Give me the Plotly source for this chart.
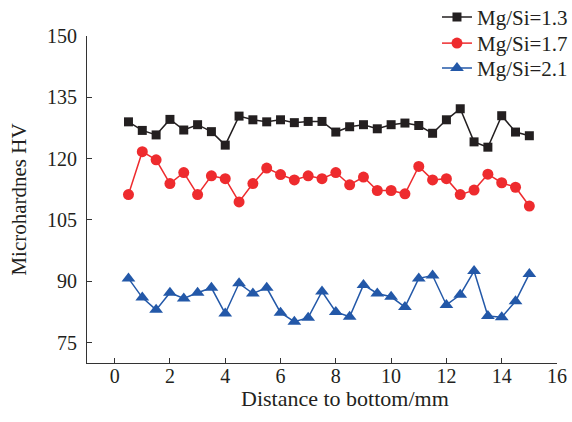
import plotly.graph_objects as go

distance = [0.5, 1.0, 1.5, 2.0, 2.5, 3.0, 3.5, 4.0, 4.5, 5.0, 5.5, 6.0, 6.5, 7.0, 7.5,
            8.0, 8.5, 9.0, 9.5, 10.0, 10.5, 11.0, 11.5, 12.0, 12.5, 13.0, 13.5, 14.0, 14.5, 15.0]

hv_13 = [129.0, 126.9, 125.8, 129.6, 127.0, 128.3, 126.6, 123.3, 130.4, 129.5, 129.0, 129.5, 128.8, 129.1, 129.1,
         126.5, 127.8, 128.3, 127.3, 128.3, 128.7, 128.1, 126.2, 129.5, 132.2, 124.1, 122.8, 130.5, 126.5, 125.6]

hv_17 = [111.2, 121.7, 119.7, 113.9, 116.6, 111.2, 115.8, 115.1, 109.4, 113.9, 117.7, 116.1, 114.8, 115.8, 115.1,
         116.6, 113.6, 115.5, 112.2, 112.2, 111.4, 118.1, 114.8, 115.1, 111.2, 112.3, 116.2, 114.1, 113.0, 108.4]

hv_21 = [90.7, 86.0, 83.0, 87.2, 85.8, 87.2, 88.4, 82.1, 89.5, 87.0, 88.4, 82.3, 80.1, 81.1, 87.5,
         82.5, 81.3, 89.1, 87.0, 86.2, 83.7, 90.7, 91.4, 84.2, 86.7, 92.5, 81.5, 81.2, 85.1, 91.8]

series_names = ["Mg/Si=1.3", "Mg/Si=1.7", "Mg/Si=2.1"]
x_ticks = [0, 2, 4, 6, 8, 10, 12, 14, 16]
y_ticks = [75, 90, 105, 120, 135, 150]
x_title = "Distance to bottom/mm"
y_title = "Microhardnes HV"

font_family = "Liberation Serif, Times New Roman, serif"
ink = "#231f20"

fig = go.Figure()
styles = [
    (hv_13, "#231f20", "square", 9, "legend"),
    (hv_17, "#ee2b2e", "circle", 11, "legend2"),
    (hv_21, "#2358a8", "triangle-up", 12, "legend3"),
]
for name, (vals, color, sym, size, leg) in zip(series_names, styles):
    fig.add_trace(go.Scatter(
        x=distance, y=vals, name=name, mode="lines+markers",
        line=dict(color=color, width=1.5),
        marker=dict(symbol=sym, size=size, color=color),
        legend=leg,
    ))

axis_common = dict(
    showline=True, linecolor="#333333", linewidth=1.2,
    ticks="inside", ticklen=5, tickcolor="#333333", tickwidth=1,
    showgrid=False, zeroline=False, mirror=False,
    tickfont=dict(family=font_family, size=20, color=ink),
)

def legend_box(ypos):
    return dict(x=1.034, xanchor="right", y=ypos, yanchor="middle", yref="container",
                bgcolor="rgba(0,0,0,0)", visible=True,
                font=dict(family=font_family, size=21, color=ink),
                itemwidth=30)

fig.update_layout(
    width=572, height=422, showlegend=True,
    margin=dict(l=87, r=15, t=36, b=59, autoexpand=False),
    paper_bgcolor="white", plot_bgcolor="white",
    font=dict(family=font_family, size=20, color=ink),
    xaxis=dict(range=[-1, 16], tickvals=x_ticks, ticklabelstandoff=-5, **axis_common),
    yaxis=dict(range=[70, 150], tickvals=y_ticks, ticklabelstandoff=5,
               title=dict(text=y_title, standoff=14,
                          font=dict(family=font_family, size=21, color=ink)),
               **axis_common),
    legend=legend_box(0.959),
    legend2=legend_box(0.897),
    legend3=legend_box(0.838),
    annotations=[dict(text=x_title, xref="paper", yref="paper", x=0.549, y=-0.108,
                      xanchor="center", yanchor="middle", showarrow=False,
                      font=dict(family=font_family, size=22, color=ink))],
)

fig.write_html("out.html", config={"displayModeBar": False},
               post_script="document.body.style.margin='0';")
